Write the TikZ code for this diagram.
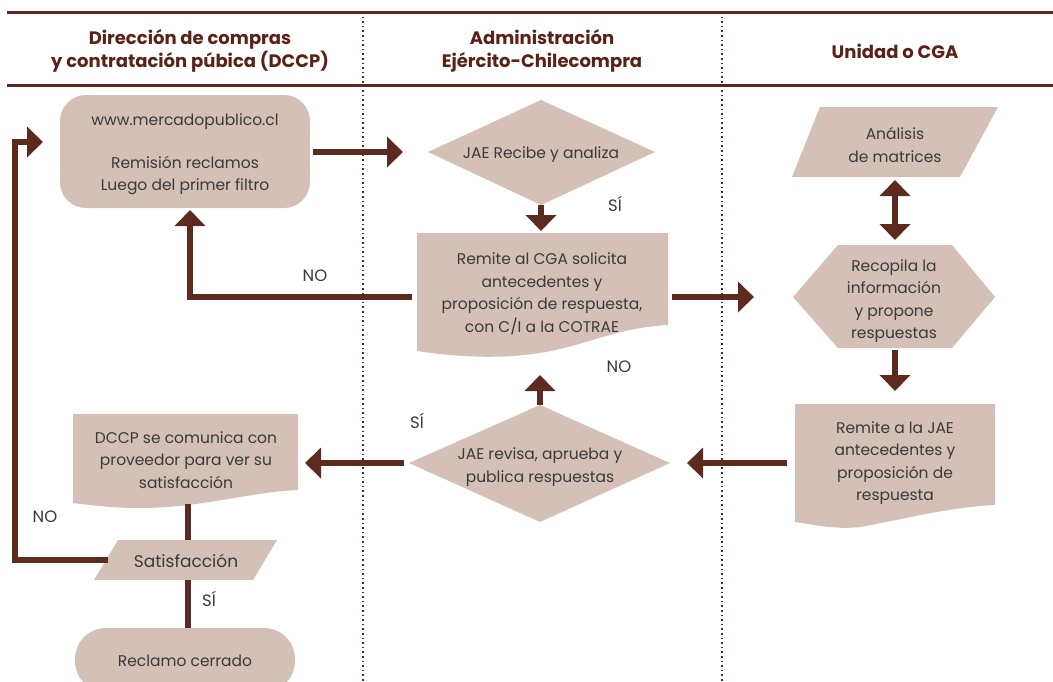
\documentclass[tikz,border=0pt]{standalone}
\usepackage{fontspec}
\setmainfont{Poppins}
\usetikzlibrary{arrows.meta}
\definecolor{brn}{HTML}{5C2A1F}
\definecolor{hdr}{HTML}{5A2217}
\definecolor{boxfill}{HTML}{D4C0B7}
\definecolor{txt}{HTML}{3A3A3A}
\tikzset{
  shp/.style={fill=boxfill, draw=none},
  lbl/.style={text=txt, font=\fontsize{15.5}{22.5}\selectfont, align=center, inner sep=0pt},
  small/.style={text=txt, font=\fontsize{16.5}{18}\selectfont, inner sep=0pt},
  head/.style={text=hdr, font=\bfseries\fontsize{18}{23}\selectfont, align=center, inner sep=0pt},
  conn/.style={draw=brn, line width=6pt},
  arr/.style={conn, -{Triangle[width=30pt,length=16pt]}},
  darr/.style={conn, {Triangle[width=30pt,length=16pt]}-{Triangle[width=30pt,length=16pt]}},
  rule/.style={draw=brn, line width=3pt},
  lane/.style={draw=brn, line width=1.6pt, dash pattern=on 1.6pt off 3pt},
}
\begin{document}
\begin{tikzpicture}[x=1pt,y=-1pt]
\useasboundingbox (0,0) rectangle (1053,681);
% header rules and lanes
\draw[rule] (7,12) -- (1053,12);
\draw[rule] (7,85) -- (1053,85);
\draw[lane] (363,12) -- (363,681);
\draw[lane] (722,12) -- (722,681);
\node[head] (h1) at (190,51) {Dirección de compras\\y contratación púbica (DCCP)};
\node[head] (h2) at (542,51) {Administración\\Ejército-Chilecompra};
\node[head] (h3) at (895,51) {Unidad o CGA};

% shapes
\fill[shp, rounded corners=26pt] (60,95) rectangle (310,208);
\node[lbl] (web) at (185,154) {www.mercadopublico.cl\\[2pt]\\[-4pt]Remisión reclamos\\Luego del primer filtro};
\coordinate (webR) at (313,152);
\coordinate (webB) at (190,210);

\fill[shp] (428,152) -- (541,100) -- (655,152) -- (541,205) -- cycle;
\node[lbl] (jae1) at (541,155) {JAE Recibe y analiza};
\coordinate (jae1B) at (541,205);

\fill[shp] (417,233) -- (668,233) -- (668,325)
  .. controls (615,328) and (585,346) .. (540,353)
  .. controls (495,360) and (450,356) .. (417,351) -- cycle;
\node[lbl] (doc1) at (542,294) {Remite al CGA solicita\\antecedentes y\\proposición de respuesta,\\con C/I a la COTRAE};
\coordinate (doc1T) at (541,231);
\coordinate (doc1L) at (412,297);
\coordinate (doc1R) at (672,297);
\coordinate (doc1B) at (540,375);

\fill[shp] (820,107) -- (998,107) -- (960,177) -- (792,177) -- cycle;
\node[lbl] (anal) at (895,145) {Análisis\\de matrices};
\coordinate (analB) at (895,180);

\fill[shp] (793,297) -- (838,245) -- (952,245) -- (995,297) -- (952,348) -- (838,348) -- cycle;
\node[lbl] (reco) at (894,301) {Recopila la\\información\\y propone\\respuestas};
\coordinate (recoT) at (895,240);
\coordinate (recoB) at (895,350);
\coordinate (doc2T) at (895,391);

\fill[shp] (795,404) -- (995,404) -- (995,505)
  .. controls (950,507) and (900,520) .. (860,527)
  .. controls (835,530) and (810,524) .. (795,522) -- cycle;
\node[lbl] (doc2) at (895,463) {Remite a la JAE\\antecedentes y\\proposición de\\respuesta};
\coordinate (doc2L) at (787,463);

\fill[shp] (409,463) -- (540,405) -- (670,463) -- (540,522) -- cycle;
\node[lbl] (jae2) at (540,467) {JAE revisa, aprueba y\\publica respuestas};
\coordinate (jae2R) at (687,463);
\coordinate (jae2T) at (540,405);
\coordinate (jae2L) at (404,463);

\fill[shp] (73,414) -- (298,414) -- (298,490)
  .. controls (250,492) and (200,508) .. (140,508)
  .. controls (110,508) and (90,505) .. (73,503) -- cycle;
\node[lbl] (doc3) at (186,460) {DCCP se comunica con\\proveedor para ver su\\satisfacción};
\coordinate (doc3R) at (305,463);
\coordinate (doc3B) at (188,504);

\fill[shp] (118,540) -- (277,540) -- (253,580) -- (94,580) -- cycle;
\node[lbl, font=\fontsize{17}{20}\selectfont] (sat) at (186,561) {Satisfacción};
\coordinate (satT) at (188,540);
\coordinate (satB) at (188,580);
\coordinate (satL) at (108,560);

\fill[shp, rounded corners=31pt] (75,628) rectangle (295,692);
\node[lbl] (cerr) at (185,661) {Reclamo cerrado};
\coordinate (cerrT) at (188,628);

% connectors
\draw[arr] (webR) -- (403,152);
\draw[arr] (jae1B) -- (doc1T);
\draw[arr] (doc1L) -| (webB);
\draw[arr] (doc1R) -- (754,297);
\draw[darr] (analB) -- (recoT);
\draw[arr] (recoB) -- (doc2T);
\draw[arr] (doc2L) -- (jae2R);
\draw[arr] (jae2T) -- (doc1B);
\draw[arr] (jae2L) -- (doc3R);
\draw[conn] (doc3B) -- (satT);
\draw[conn] (satB) -- (cerrT);
\coordinate (loopTop) at (15,142);
\draw[arr] (satL) -| (loopTop) -- (43,142);

% labels
\node[small] (si1) at (615,204) {SÍ};
\node[small] (no1) at (315,276) {NO};
\node[small] (no2) at (619,367) {NO};
\node[small] (si2) at (417,421) {SÍ};
\node[small] (no3) at (45,517) {NO};
\node[small] (si3) at (209,599) {SÍ};
\end{tikzpicture}
\end{document}
